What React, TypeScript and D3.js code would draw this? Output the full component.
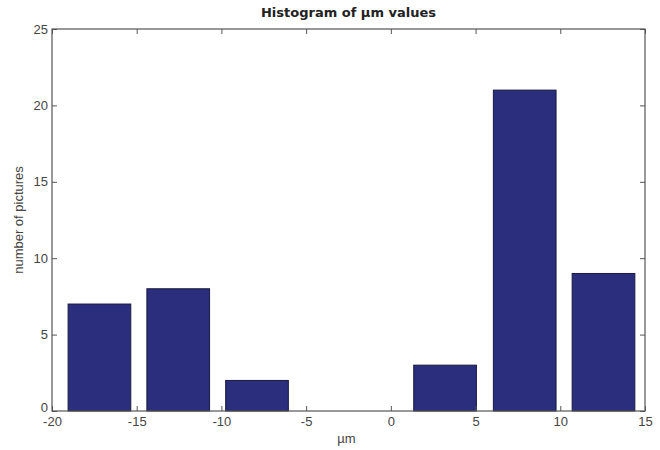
import React, { useEffect, useRef } from "react";
import * as d3 from "d3";

// bin centers (µm) and counts
const binCenters = [-17.2, -12.55, -7.9, 3.2, 7.9, 12.55];
const binCounts = [7, 8, 2, 3, 21, 9];
const barWidthUnits = 3.7;
const xTicks = [-20, -15, -10, -5, 0, 5, 10, 15];
const yTicks = [0, 5, 10, 15, 20, 25];

function App() {
  const svgWidth = 660;
  const svgHeight = 450;
  const left = 52;
  const right = 645;
  const top = 29;
  const bottom = 411;
  const svgRef = useRef<SVGSVGElement>(null);

  useEffect(() => {
    const svg = d3.select(svgRef.current);
    svg.selectAll("*").remove();

    const xScale = d3.scaleLinear().domain([-20, 15]).range([left, right]);
    const yScale = d3.scaleLinear().domain([0, 25]).range([bottom, top]);
    const font = "Liberation Sans, Arial, sans-serif";
    const plain = (d: d3.NumberValue) => String(d); // hyphen minus, not d3's unicode minus

    // bars
    svg
      .selectAll(".bar")
      .data(binCounts)
      .join("rect")
      .attr("class", "bar")
      .attr("x", (d, i) => xScale(binCenters[i] - barWidthUnits / 2))
      .attr("width", (d, i) => xScale(binCenters[i] + barWidthUnits / 2) - xScale(binCenters[i] - barWidthUnits / 2))
      .attr("y", (d) => yScale(d))
      .attr("height", (d) => yScale(0) - yScale(d))
      .attr("fill", "#2b2d7d")
      .attr("stroke", "#1a1a40")
      .attr("stroke-width", 1);

    // axes, ticks pointing inward like matlab
    const tickLen = 5;
    const axisColor = "#555";
    const xAxis = d3.axisBottom(xScale).tickValues(xTicks).tickFormat(plain).tickSizeInner(-tickLen).tickSizeOuter(0).tickPadding(6);
    svg
      .append("g")
      .attr("transform", `translate(0,${bottom})`)
      .call(xAxis)
      .call((g) => g.select(".domain").remove());
    const xTop = d3.axisTop(xScale).tickValues(xTicks).tickSizeInner(-tickLen).tickSizeOuter(0).tickFormat(() => "");
    svg
      .append("g")
      .attr("transform", `translate(0,${top})`)
      .call(xTop)
      .call((g) => g.select(".domain").remove());

    const yAxis = d3.axisLeft(yScale).tickValues(yTicks).tickFormat(plain).tickSizeInner(-tickLen).tickSizeOuter(0).tickPadding(4);
    const yG = svg
      .append("g")
      .attr("transform", `translate(${left},0)`)
      .call(yAxis)
      .call((g) => g.select(".domain").remove());
    const yRight = d3.axisRight(yScale).tickValues(yTicks).tickSizeInner(-tickLen).tickSizeOuter(0).tickFormat(() => "");
    svg
      .append("g")
      .attr("transform", `translate(${right},0)`)
      .call(yRight)
      .call((g) => g.select(".domain").remove());

    svg.selectAll(".tick line").attr("stroke", axisColor);
    svg
      .selectAll(".tick text")
      .attr("fill", "#444")
      .attr("font-size", 13)
      .attr("font-family", font);

    // lift the "0" a bit so it doesn't sit on the "-20"
    yG.selectAll(".tick text")
      .filter((d) => d === 0)
      .attr("y", -4);

    // box
    svg
      .append("rect")
      .attr("x", left)
      .attr("y", top)
      .attr("width", right - left)
      .attr("height", bottom - top)
      .attr("fill", "none")
      .attr("stroke", axisColor)
      .attr("stroke-width", 1.2);

    // title and labels
    svg
      .append("text")
      .attr("x", (left + right) / 2)
      .attr("y", 17)
      .attr("text-anchor", "middle")
      .attr("font-family", "DejaVu Sans, sans-serif")
      .attr("font-weight", "bold")
      .attr("font-size", 13)
      .attr("fill", "#222")
      .text("Histogram of µm values");

    svg
      .append("text")
      .attr("x", (left + right) / 2 - 2)
      .attr("y", 443)
      .attr("text-anchor", "middle")
      .attr("font-family", font)
      .attr("font-size", 13)
      .attr("fill", "#444")
      .text("µm");

    svg
      .append("text")
      .attr("transform", `translate(23,${(top + bottom) / 2}) rotate(-90)`)
      .attr("text-anchor", "middle")
      .attr("font-family", font)
      .attr("font-size", 13)
      .attr("fill", "#444")
      .text("number of pictures");
  }, []);

  return (
    <div style={{ position: "fixed", left: 0, top: 0, background: "#fff" }}>
      <svg width={svgWidth} height={svgHeight} ref={svgRef} style={{ display: "block" }} />
    </div>
  );
}

export default App;
